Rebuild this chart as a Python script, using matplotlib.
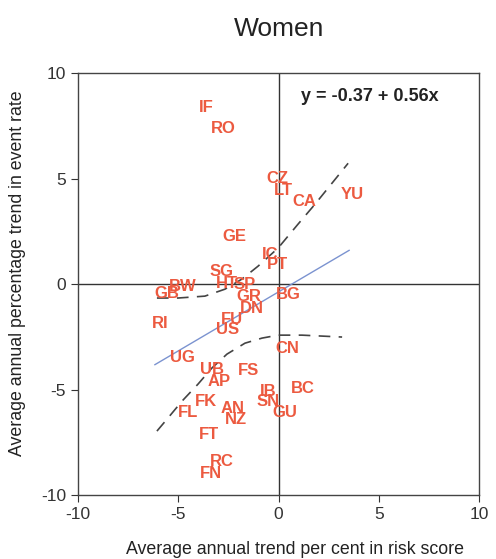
import matplotlib.pyplot as plt

plt.rcParams['font.family'] = ['Liberation Sans', 'DejaVu Sans']
plt.rcParams['axes.unicode_minus'] = False

# population codes and their (risk score trend, event rate trend)
codes = ["IF", "RO", "CZ", "LT", "CA", "YU", "GE", "IC", "PT", "SG",
         "HT", "SP", "GR", "DN", "FU", "US", "BW", "GB", "RI", "BG",
         "CN", "UG", "UB", "FS", "AP", "IB", "BC", "SN", "FK", "FL",
         "AN", "GU", "NZ", "FT", "RC", "FN"]
risk = [-3.62, -2.77, -0.07, 0.22, 1.27, 3.67, -2.22, -0.42, -0.07, -2.82,
        -2.57, -1.67, -1.47, -1.32, -2.32, -2.52, -4.76, -5.56, -5.91, 0.47,
        0.42, -4.81, -3.32, -1.52, -2.97, -0.52, 1.22, -0.52, -3.62, -4.51,
        -2.27, 0.32, -2.12, -3.47, -2.82, -3.37]
event = [8.39, 7.39, 5.02, 4.45, 3.93, 4.27, 2.27, 1.42, 0.95, 0.62,
         0.05, 0.0, -0.57, -1.18, -1.66, -2.13, -0.09, -0.43, -1.85, -0.47,
         -3.03, -3.46, -4.03, -4.12, -4.64, -5.07, -4.93, -5.59, -5.59, -6.11,
         -5.88, -6.11, -6.40, -7.11, -8.39, -9.00]

# fitted line end points
fit_x = [-6.16, 3.52]
fit_y = [-0.37 + 0.56 * v for v in fit_x]

# confidence band
upper_x = [-6.06, -5.01, -3.67, -2.67, -1.82, -1.02, -0.02, 0.97, 1.82, 2.67, 3.47]
upper_y = [-0.66, -0.66, -0.57, -0.24, 0.24, 0.85, 1.71, 2.84, 3.79, 4.79, 5.73]
lower_x = [-6.06, -5.51, -4.81, -4.01, -3.32, -2.57, -1.67, -0.82, -0.02, 1.17, 3.17]
lower_y = [-6.97, -6.35, -5.55, -4.74, -3.98, -3.32, -2.80, -2.56, -2.42, -2.42, -2.51]

fig = plt.figure(figsize=(4.96, 5.59), dpi=100)
ax = fig.add_axes([0.157, 0.1145, 0.809, 0.7545])

ax.axhline(0, color="#333333", lw=1.0)
ax.axvline(0, color="#333333", lw=1.0)

ax.plot(fit_x, fit_y, color="#7b93d0", lw=1.0)
ax.plot(upper_x, upper_y, color="#444444", lw=1.2, dashes=(7, 5))
ax.plot(lower_x, lower_y, color="#444444", lw=1.2, dashes=(7, 5))

for c, xv, yv in zip(codes, risk, event):
    ax.text(xv, yv, c, color="#ec5a40", fontsize=12, fontweight="bold",
            ha="center", va="center")

ax.text(4.56, 8.91, "y = -0.37 + 0.56x", fontsize=13, fontweight="bold",
        ha="center", va="center", color="#222222")

ax.set_xlim(-10, 10)
ax.set_ylim(-10, 10)
ax.set_xticks([-10, -5, 0, 5, 10])
ax.set_yticks([-10, -5, 0, 5, 10])
ax.tick_params(direction="out", length=5, labelsize=12.5, colors="#333333")
for s in ax.spines.values():
    s.set_color("#444444")
    s.set_linewidth(1.0)

ax.set_xlabel("Average annual trend per cent in risk score", fontsize=12.8,
              color="#222222")
ax.xaxis.set_label_coords(0.54, -0.108)
ax.set_ylabel("Average annual percentage trend in event rate", fontsize=12.8,
              color="#222222")
ax.yaxis.set_label_coords(-0.13, 0.525)
fig.text(0.563, 0.948, "Women", fontsize=19, ha="center", va="center",
         color="#222222")

fig.savefig("out.png", dpi=100)
